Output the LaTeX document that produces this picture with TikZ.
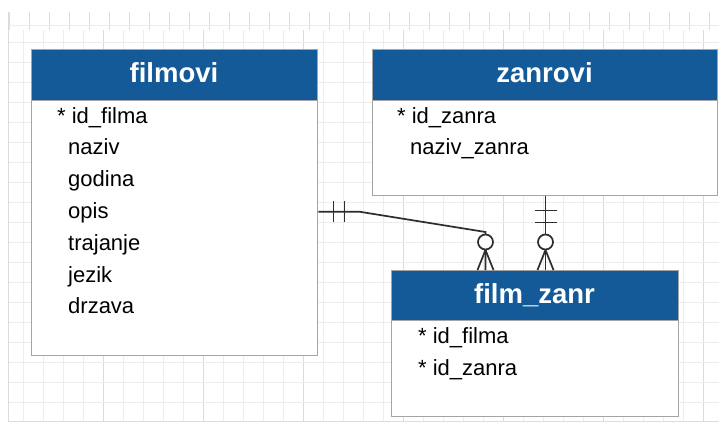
\documentclass[tikz,border=0pt]{standalone}
\usepackage{fontspec}
\setmainfont{Liberation Sans}
\usetikzlibrary{calc}
\definecolor{hdr}{RGB}{20,90,152}
\definecolor{gridminor}{RGB}{237,237,237}
\definecolor{gridmajor}{RGB}{220,220,220}
\definecolor{conn}{RGB}{45,45,45}
\definecolor{boxline}{RGB}{165,165,165}
\tikzset{
  tablebody/.style={draw=boxline, line width=1.4pt, fill=white, inner sep=0pt, anchor=north west},
  tablehead/.style={draw=boxline, line width=1.4pt, fill=hdr, inner sep=0pt, anchor=north west},
  titletext/.style={anchor=base, inner sep=0pt, text=white, font=\fontsize{27.5}{28}\selectfont\bfseries},
  attr/.style={anchor=base west, inner sep=0pt, font=\fontsize{22}{22}\selectfont},
  rel/.style={draw=conn, line width=1.7pt},
  gminor/.style={draw=gridminor, line width=1pt},
  gmajor/.style={draw=gridmajor, line width=1pt},
}
\begin{document}
\begin{tikzpicture}[x=1pt,y=-1pt]
\useasboundingbox (0,0) rectangle (719,423);
\fill[white] (0,0) rectangle (719,423);
% grid
\foreach \x in {9,29,...,709} \draw[gmajor] (\x,12) -- (\x,30);
\draw[gminor] (8,25) -- (719,25);
\foreach \x in {23,43,...,719} \draw[gminor] (\x,30) -- (\x,421);
\foreach \x in {103,203,...,703} \draw[gmajor] (\x,30) -- (\x,421);
\foreach \y in {42,62,...,402} \draw[gminor] (8,\y) -- (719,\y);
\draw[gmajor] (8,12) -- (8,421) -- (719,421);

% tables
\node[tablebody, minimum width=286pt, minimum height=306pt] (filmovi) at (31,49) {};
\node[tablehead, minimum width=286pt, minimum height=51pt] (filmovihead) at (31,49) {};
\node[titletext] (filmovititle) at (174,82) {filmovi};
\node[attr] (f1) at (57,123) {* id\_filma};
\node[attr] (f2) at (68,154.8) {naziv};
\node[attr] (f3) at (68,186.6) {godina};
\node[attr] (f4) at (68,218.4) {opis};
\node[attr] (f5) at (68,250.2) {trajanje};
\node[attr] (f6) at (68,282) {jezik};
\node[attr] (f7) at (68,313.8) {drzava};

\node[tablebody, minimum width=345pt, minimum height=146pt] (zanrovi) at (372,49) {};
\node[tablehead, minimum width=345pt, minimum height=51pt] (zanrovihead) at (372,49) {};
\node[titletext] (zanrovititle) at (544.5,82) {zanrovi};
\node[attr] (z1) at (397,123) {* id\_zanra};
\node[attr] (z2) at (410,154.8) {naziv\_zanra};

\node[tablebody, minimum width=287pt, minimum height=146pt] (filmzanr) at (391,270) {};
\node[tablehead, minimum width=287pt, minimum height=50pt] (filmzanrhead) at (391,270) {};
\node[titletext] (filmzanrtitle) at (534.5,303) {film\_zanr};
\node[attr] (fz1) at (418,343) {* id\_filma};
\node[attr] (fz2) at (418,375) {* id\_zanra};

% relationship 1: filmovi -> film_zanr
\coordinate (a1) at ([yshift=-9pt]filmovi.east);
\coordinate (a2) at ($(a1)+(41,0)$);
\coordinate (a4) at (filmzanrhead.north west -| 485.5,0);
\coordinate (a3) at ($(a4)+(0,-38)$);
\coordinate (a5) at ($(a4)+(0,-28)$);
\draw[rel] (a1) -- (a2) -- (a3) -- (a4);
\draw[rel] ($(a1)+(15,-10.5)$) -- ($(a1)+(15,10.5)$);
\draw[rel] ($(a1)+(26,-10.5)$) -- ($(a1)+(26,10.5)$);
\draw[rel] ($(a4)+(-8,0)$) -- ($(a4)+(0,-20)$) -- ($(a4)+(8,0)$);
\draw[rel, fill=white] (a5) circle (7.5);

% relationship 2: zanrovi -> film_zanr
\coordinate (b1) at (zanrovi.south west -| 545.5,0);
\coordinate (b2) at (filmzanrhead.north west -| 545.5,0);
\coordinate (b3) at ($(b2)+(0,-28)$);
\draw[rel] (b1) -- (b2);
\draw[rel] ($(b1)+(-11,14)$) -- ($(b1)+(11,14)$);
\draw[rel] ($(b1)+(-11,26)$) -- ($(b1)+(11,26)$);
\draw[rel] ($(b2)+(-8,0)$) -- ($(b2)+(0,-20)$) -- ($(b2)+(8,0)$);
\draw[rel, fill=white] (b3) circle (7.5);
\end{tikzpicture}
\end{document}
